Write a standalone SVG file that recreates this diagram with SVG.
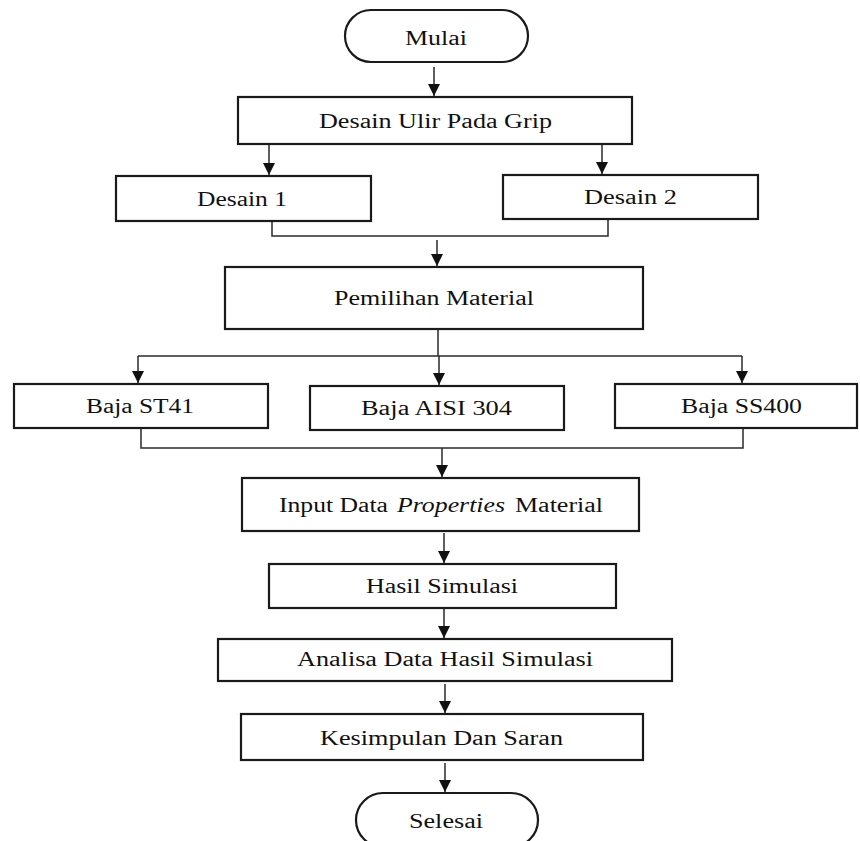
<svg xmlns="http://www.w3.org/2000/svg" width="860" height="841" viewBox="0 0 860 841">
<style>
.box{fill:#fff;stroke:#1a1a1a;stroke-width:2.2}
.t{font-family:"Liberation Serif","Times New Roman",serif;font-size:20px;fill:#111}
.c{fill:none;stroke:#2a2a2a;stroke-width:1.5}
</style>
<defs>
<marker id="ah" markerUnits="userSpaceOnUse" markerWidth="12" markerHeight="12" refX="12" refY="6" orient="auto">
<path d="M0,0 L12,6 L0,12 z" fill="#111"/>
</marker>
</defs>
<rect width="860" height="841" fill="#fff"/>
<g id="connectors">
<path class="c" d="M434,67 V96" marker-end="url(#ah)"/>
<path class="c" d="M269,144 V175" marker-end="url(#ah)"/>
<path class="c" d="M602,144 V174" marker-end="url(#ah)"/>
<path class="c" d="M272,221 V236 H608 V219"/>
<path class="c" d="M437,240 V266" marker-end="url(#ah)"/>
<path class="c" d="M438,329 V356"/>
<path class="c" d="M138,356 H742"/>
<path class="c" d="M138,356 V383" marker-end="url(#ah)"/>
<path class="c" d="M439,356 V385" marker-end="url(#ah)"/>
<path class="c" d="M742,356 V383" marker-end="url(#ah)"/>
<path class="c" d="M141,428 V448 H743 V428"/>
<path class="c" d="M442,448 V477" marker-end="url(#ah)"/>
<path class="c" d="M444,533 V563" marker-end="url(#ah)"/>
<path class="c" d="M444,609 V638" marker-end="url(#ah)"/>
<path class="c" d="M445,684 V713" marker-end="url(#ah)"/>
<path class="c" d="M445,763 V792" marker-end="url(#ah)"/>
</g>
<g id="mulai">
<rect class="box" x="345" y="10" width="183" height="52" rx="26"/>
<text class="t" x="405" y="45" textLength="62" lengthAdjust="spacingAndGlyphs">Mulai</text>
</g>
<g id="desain-ulir">
<rect class="box" x="238" y="97" width="394" height="47"/>
<text class="t" x="319" y="128" textLength="233" lengthAdjust="spacingAndGlyphs">Desain Ulir Pada Grip</text>
</g>
<g id="desain1">
<rect class="box" x="116" y="176" width="255" height="45"/>
<text class="t" x="197" y="206" textLength="90" lengthAdjust="spacingAndGlyphs">Desain 1</text>
</g>
<g id="desain2">
<rect class="box" x="503" y="175" width="255" height="44"/>
<text class="t" x="584" y="204" textLength="93" lengthAdjust="spacingAndGlyphs">Desain 2</text>
</g>
<g id="pemilihan">
<rect class="box" x="225" y="267" width="418" height="62"/>
<text class="t" x="334" y="305" textLength="200" lengthAdjust="spacingAndGlyphs">Pemilihan Material</text>
</g>
<g id="st41">
<rect class="box" x="14" y="384" width="254" height="44"/>
<text class="t" x="86" y="413" textLength="108" lengthAdjust="spacingAndGlyphs">Baja ST41</text>
</g>
<g id="aisi304">
<rect class="box" x="310" y="386" width="254" height="44"/>
<text class="t" x="361" y="415" textLength="151" lengthAdjust="spacingAndGlyphs">Baja AISI 304</text>
</g>
<g id="ss400">
<rect class="box" x="615" y="384" width="242" height="44"/>
<text class="t" x="681" y="413" textLength="121" lengthAdjust="spacingAndGlyphs">Baja SS400</text>
</g>
<g id="input">
<rect class="box" x="242" y="478" width="397" height="53"/>
<text class="t" y="512"><tspan x="279" textLength="109" lengthAdjust="spacingAndGlyphs">Input Data</tspan><tspan x="397" font-style="italic" textLength="108" lengthAdjust="spacingAndGlyphs">Properties</tspan><tspan x="515" textLength="88" lengthAdjust="spacingAndGlyphs">Material</tspan></text>
</g>
<g id="hasil">
<rect class="box" x="269" y="564" width="347" height="44"/>
<text class="t" x="366" y="593" textLength="152" lengthAdjust="spacingAndGlyphs">Hasil Simulasi</text>
</g>
<g id="analisa">
<rect class="box" x="218" y="639" width="454" height="42"/>
<text class="t" x="297" y="666" textLength="296" lengthAdjust="spacingAndGlyphs">Analisa Data Hasil Simulasi</text>
</g>
<g id="kesimpulan">
<rect class="box" x="241" y="714" width="402" height="46"/>
<text class="t" x="320" y="745" textLength="243" lengthAdjust="spacingAndGlyphs">Kesimpulan Dan Saran</text>
</g>
<g id="selesai">
<rect class="box" x="356" y="793" width="182" height="54" rx="27"/>
<text class="t" x="409" y="828" textLength="74" lengthAdjust="spacingAndGlyphs">Selesai</text>
</g>
</svg>
